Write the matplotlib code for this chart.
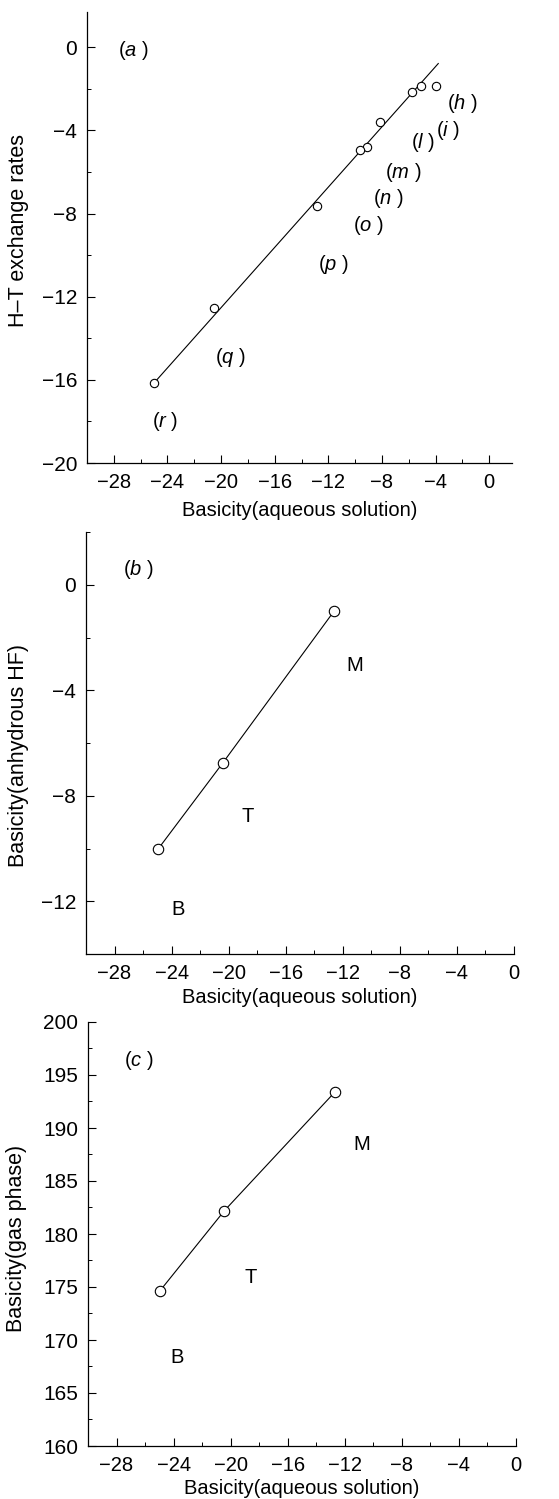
import matplotlib
matplotlib.use("Agg")
import matplotlib.pyplot as plt
from matplotlib.ticker import MultipleLocator

plt.rcParams['font.family'] = ['Liberation Sans', 'DejaVu Sans']
plt.rcParams['mathtext.fontset'] = 'custom'
plt.rcParams['mathtext.rm'] = 'Liberation Sans'
plt.rcParams['mathtext.it'] = 'Liberation Sans:italic'

FS = 14.5
FS_Y = 15.5

# ---------------- data ----------------
# panel (a)
a_x = [-3.95, -5.09, -5.76, -8.14, -9.13, -9.63, -12.85, -20.53, -25.0]
a_y = [-1.87, -1.87, -2.14, -3.58, -4.78, -4.94, -7.62, -12.54, -16.15]
a_fit_x = [-25.0, -3.8]
a_fit_y = [-16.15, -0.78]
a_labels = ['h', 'i', 'l', 'm', 'n', 'o', 'p', 'q', 'r']
a_lab_x = [-2.03, -3.08, -4.94, -6.43, -7.54, -9.03, -11.64, -19.3, -24.2]
a_lab_y = [-2.69, -3.98, -4.56, -6.0, -7.25, -8.55, -10.47, -14.93, -18.0]

# panel (b)
b_x = [-12.6, -20.39, -24.96]
b_y = [-0.99, -6.74, -10.03]
b_labels = ['M', 'T', 'B']
b_lab_x = [-11.13, -18.66, -23.57]
b_lab_y = [-3.07, -8.79, -12.31]

# panel (c)
c_x = [-12.69, -20.44, -24.98]
c_y = [193.4, 182.2, 174.6]
c_labels = ['M', 'T', 'B']
c_lab_x = [-10.78, -18.62, -23.74]
c_lab_y = [188.4, 175.9, 168.35]

xlabel = 'Basicity(aqueous solution)'

W, H = 559, 1499
fig = plt.figure(figsize=(W / 100, H / 100), dpi=100)


def px_axes(l, r, t, b):
    return fig.add_axes([l / W, 1 - b / H, (r - l) / W, (b - t) / H])


def style(ax, ymaj, ymin):
    for s in ('top', 'right'):
        ax.spines[s].set_visible(False)
    for s in ('left', 'bottom'):
        ax.spines[s].set_linewidth(0.9)
    ax.xaxis.set_major_locator(MultipleLocator(4))
    ax.xaxis.set_minor_locator(MultipleLocator(2))
    ax.yaxis.set_major_locator(MultipleLocator(ymaj))
    ax.yaxis.set_minor_locator(MultipleLocator(ymin))
    ax.tick_params(which='major', direction='in', length=6, width=0.8)
    ax.tick_params(which='minor', direction='in', length=3, width=0.7)
    ax.tick_params(axis='x', which='major', pad=7, labelsize=FS)
    ax.tick_params(axis='y', which='major', pad=7, labelsize=15)
    ax.set_xlabel(xlabel, fontsize=FS)


def place_labels(ax, ylab_px_x, ax_left, ax_right, xlab_off, ax_h, ycen=0.5):
    ax.yaxis.set_label_coords(-(ax_left - ylab_px_x) / (ax_right - ax_left), ycen)
    ax.xaxis.set_label_coords(0.5, -xlab_off / ax_h)
    ax.xaxis.label.set_va('center')
    ax.yaxis.label.set_va('center')


# ---- (a)
ax = px_axes(87, 512, 12, 463)
ax.set_xlim(-30, 1.7)
ax.set_ylim(-20, 1.7)
ax.plot(a_fit_x, a_fit_y, color='black', lw=0.8)
ax.plot(a_x, a_y, 'o', mfc='white', mec='black', ms=6, mew=0.8)
for lab, lx, ly in zip(a_labels, a_lab_x, a_lab_y):
    ax.text(lx, ly, '(' + r'$\mathit{' + lab + '}$' + ' )', fontsize=FS,
            ha='center', va='center')
ax.text(-26.55, -0.14, '(' + r'$\mathit{a}$' + ' )', fontsize=FS, ha='center', va='center')
style(ax, 4, 2)
ax.set_yticks([0, -4, -8, -12, -16, -20])
ax.set_xticks([-28, -24, -20, -16, -12, -8, -4, 0])
ax.set_ylabel('H–T exchange rates', fontsize=FS_Y)
place_labels(ax, 19, 87, 512, 47, 451, 0.515)

# ---- (b)
ax = px_axes(86, 514, 532, 954)
ax.set_xlim(-30, 0)
ax.set_ylim(-14, 2)
ax.plot(b_x, b_y, '-o', color='black', lw=0.8, mfc='white', mec='black', ms=7.5, mew=0.8)
for lab, lx, ly in zip(b_labels, b_lab_x, b_lab_y):
    ax.text(lx, ly, lab, fontsize=FS, ha='center', va='center')
ax.text(-26.3, 0.58, '(' + r'$\mathit{b}$' + ' )', fontsize=FS, ha='center', va='center')
style(ax, 4, 2)
ax.set_yticks([0, -4, -8, -12])
ax.set_ylabel('Basicity(anhydrous HF)', fontsize=FS_Y)
place_labels(ax, 19, 86, 514, 44, 422, 0.47)

# ---- (c)
ax = px_axes(88, 516, 1022, 1446)
ax.set_xlim(-30, 0)
ax.set_ylim(160, 200)
ax.plot(c_x, c_y, '-o', color='black', lw=0.8, mfc='white', mec='black', ms=7.5, mew=0.8)
for lab, lx, ly in zip(c_labels, c_lab_x, c_lab_y):
    ax.text(lx, ly, lab, fontsize=FS, ha='center', va='center')
ax.text(-26.45, 196.4, '(' + r'$\mathit{c}$' + ' )', fontsize=FS, ha='center', va='center')
style(ax, 5, 2.5)
ax.set_ylabel('Basicity(gas phase)', fontsize=FS_Y)
place_labels(ax, 17, 88, 516, 42, 424, 0.49)

fig.savefig('out.png', dpi=100)
